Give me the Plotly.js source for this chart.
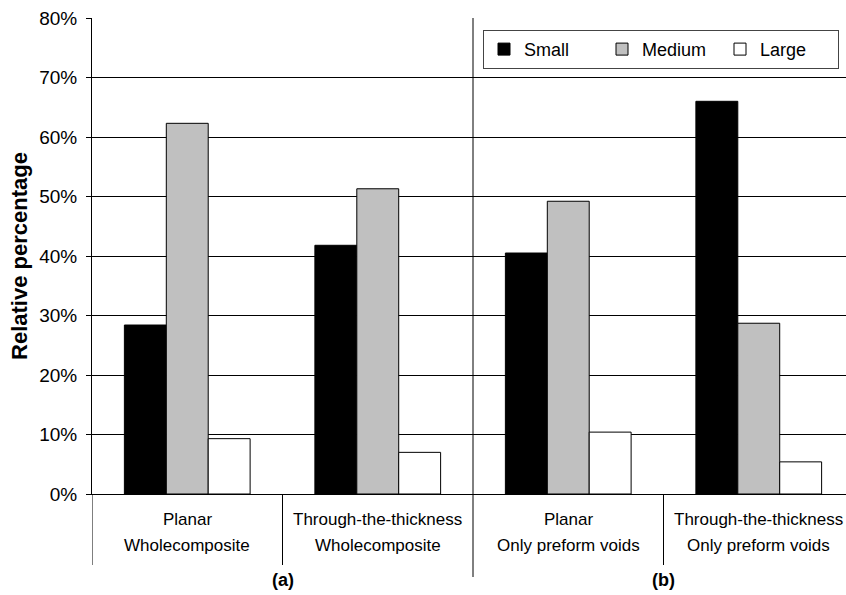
<!DOCTYPE html>
<html>
<head>
<meta charset="utf-8">
<script src="https://cdn.plot.ly/plotly-3.0.1.min.js"></script>
<style>html,body{margin:0;padding:0;background:#fff;}#chart{width:846px;height:595px;}</style>
</head>
<body>
<div id="chart"></div>
<script>
var categories = ["Planar<br>Wholecomposite", "Through-the-thickness<br>Wholecomposite", "Planar<br>Only preform voids", "Through-the-thickness<br>Only preform voids"];
var smallVals = [28.4, 41.8, 40.5, 66.0];
var mediumVals = [62.3, 51.3, 49.2, 28.7];
var largeVals = [9.3, 7.0, 10.4, 5.4];
var seriesNames = ["Small", "Medium", "Large"];
var groupLabels = ["(a)", "(b)"];
var yTickVals = [0, 10, 20, 30, 40, 50, 60, 70, 80];
var yTickText = yTickVals.map(function(v) { return v + "%"; });

var FONT = "Liberation Sans, Arial, sans-serif";
var colors = ["#000000", "#c0c0c0", "#ffffff"];
var vals = [smallVals, mediumVals, largeVals];

var traces = seriesNames.map(function(n, i) {
  return {
    type: "bar", name: n, x: categories, y: vals[i],
    marker: {color: colors[i], line: {color: "#000", width: 1}},
    hoverinfo: "skip"
  };
});

function vline(x, y0, y1) {
  return {type: "line", xref: "x", yref: "paper", x0: x, x1: x, y0: y0, y1: y1,
          line: {color: "#000", width: 1}};
}
var pxToPaper = function(py) { return (494 - py) / 476; };

var annotations = [];
groupLabels.forEach(function(g, i) {
  annotations.push({text: "<b>" + g + "</b>", xref: "x", yref: "paper", x: 0.5 + 2 * i, y: pxToPaper(580),
          xanchor: "center", yanchor: "middle", showarrow: false,
          font: {family: FONT, size: 18, color: "#000"}});
});
categories.forEach(function(c, i) {
  var parts = c.split("<br>");
  parts.forEach(function(p, j) {
    annotations.push({text: p, xref: "x", yref: "paper", x: i, y: pxToPaper(519 + 26 * j),
      xanchor: "center", yanchor: "middle", showarrow: false,
      font: {family: FONT, size: 17, color: "#000"}});
  });
});

var layout = {
  width: 846, height: 595,
  margin: {l: 92, r: 0, t: 18, b: 101},
  paper_bgcolor: "#fff", plot_bgcolor: "#fff",
  barmode: "group", bargap: 0.34, bargroupgap: 0,
  font: {family: FONT, color: "#000"},
  showlegend: true,
  legend: {
    orientation: "h", x: (483 - 92) / 754, y: 0.975, xanchor: "left", yanchor: "top",
    bordercolor: "#444", borderwidth: 1, bgcolor: "#fff",
    font: {family: FONT, size: 18, color: "#000"},
    entrywidth: 73, itemclick: false
  },
  xaxis: {
    type: "category", range: [-0.5, 3.458], showgrid: false, automargin: false,
    showline: true, linecolor: "#000", linewidth: 1,
    ticks: "", showticklabels: false,
    fixedrange: true
  },
  yaxis: {
    range: [0, 80], tickvals: yTickVals, ticktext: yTickText, automargin: false,
    showgrid: true, gridcolor: "#000", gridwidth: 1,
    showline: true, linecolor: "#000", linewidth: 1,
    ticks: "outside", ticklen: 5, tickcolor: "#000", ticklabelstandoff: 5,
    tickfont: {family: FONT, size: 19, color: "#000"},
    zeroline: false,
    title: {text: "<b>Relative percentage</b>", font: {family: FONT, size: 22, color: "#000"}, standoff: 5},
    fixedrange: true
  },
  shapes: [
    vline(-0.5, 0, pxToPaper(565)),
    vline(0.5, 0, pxToPaper(565)),
    vline(1.5, 1, pxToPaper(577)),
    vline(2.5, 0, pxToPaper(565))
  ],
  annotations: annotations
};

Plotly.newPlot("chart", traces, layout, {displayModeBar: false, staticPlot: true});
</script>
</body>
</html>
